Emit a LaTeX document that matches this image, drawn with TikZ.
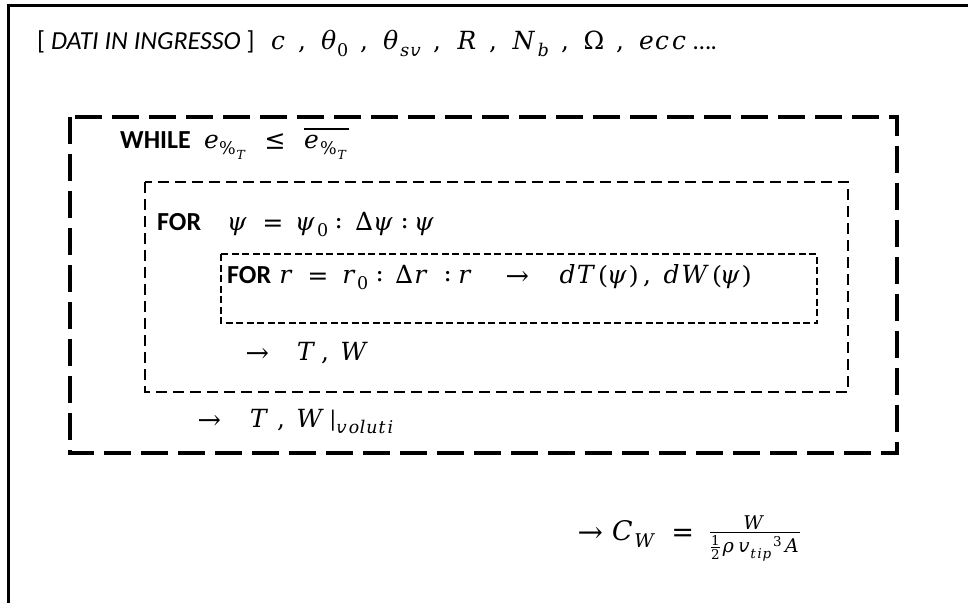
\documentclass[tikz,border=0pt]{standalone}
\usepackage{amsmath}
\usepackage{fontspec}
\usepackage{unicode-math}
\setmainfont{Carlito}
\setmathfont{DejaVu Math TeX Gyre}
\usetikzlibrary{positioning}
\tikzset{
  frame/.style={line width=3pt},
  whilebox/.style={line width=3.2pt,dash pattern=on 27pt off 10pt},
  forpsibox/.style={line width=2pt,dash pattern=on 11pt off 6pt},
  forrbox/.style={line width=1.5pt,dash pattern=on 7pt off 3.5pt},
  kw/.style={anchor=base west,inner sep=0pt,font=\fontsize{26}{30}\selectfont\bfseries},
  mth/.style={anchor=base west,inner sep=0pt,font=\fontsize{25}{30}\selectfont},
  headlbl/.style={anchor=base west,inner sep=0pt,font=\fontsize{26}{30}\selectfont},
}

\begin{document}
\begin{tikzpicture}[x=1pt,y=-1pt]
  \useasboundingbox (0,0) rectangle (968,602);
  \draw[frame] (8,604) |- (970,6);

  % nested loops
  \draw[whilebox] (70,117) rectangle (897,453);
  \draw[forpsibox] (145,182) rectangle (848,392);
  \draw[forrbox] (221,254) rectangle (817,323);

  % input data
  \node[headlbl] (dati) at (37,50) {[ \textit{DATI IN INGRESSO} ]};
  \node[mth] (params) at ([xshift=16pt]dati.base east) {$c\mkern8mu,\mkern7mu\theta_0\mkern8mu,\mkern7mu\theta_{sv}\mkern8mu,\mkern7mu R\mkern8mu,\mkern7mu N_b\mkern8mu,\mkern7mu\mitOmega\mkern8mu,\mkern7mu ecc$ \textup{….}};

  % while loop
  \node[kw] (while) at (120,148) {WHILE};
  \node[mth] (cond) at ([xshift=12pt]while.base east) {$e_{\%_T}\mkern8mu\leq\mkern8mu\overline{e_{\%_T}}$};

  % for psi
  \node[kw] (forpsi) at (157,230) {FOR};
  \node[mth] (rangepsi) at ([xshift=27pt]forpsi.base east) {$\psi\;=\;\psi_0:\,\Delta\psi:\psi$};

  % for r
  \node[kw] (forr) at (227,283) {FOR};
  \node[mth] (ranger) at ([xshift=8pt]forr.base east) {$r\;=\;r_0:\,\Delta r\;:r\quad\to\mkern15mu dT(\psi)\,,\;dW(\psi)$};

  % results
  \node[mth] (outpsi) at (245,360) {$\to\mkern14mu T\,,\;W$};
  \node[mth] (outwhile) at (197,427) {$\to\mkern15mu T\;,\;W\,|_{voluti}$};
  \node[mth,font=\fontsize{27}{32}\selectfont] (cw) at (577,540) {$\to C_W\;=\;\frac{W}{\frac{1}{2}\rho\,{v_{tip}}^3A}$};
\end{tikzpicture}
\end{document}
